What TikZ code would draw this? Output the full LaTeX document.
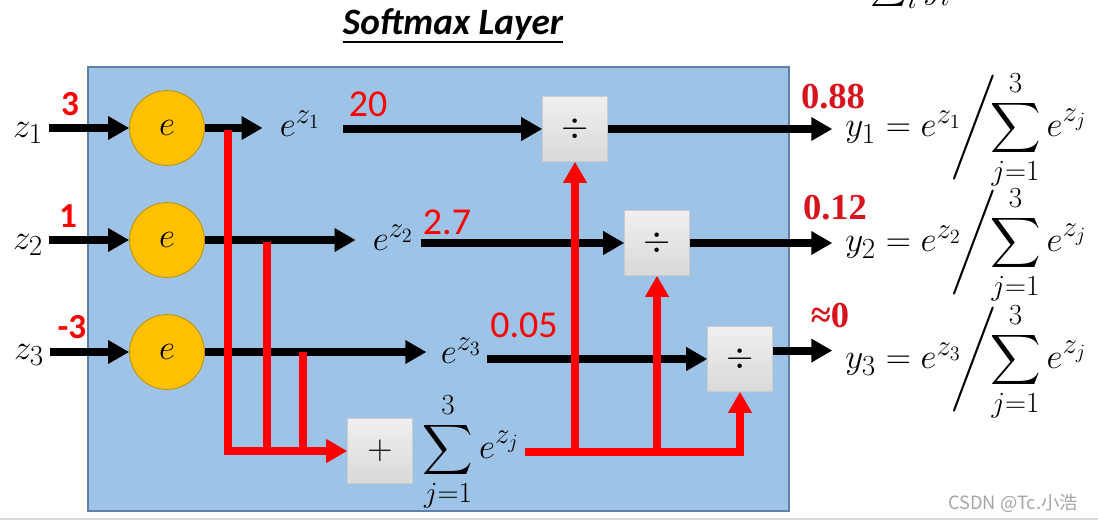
\documentclass[tikz,border=0pt]{standalone}
\usepackage{fontspec}
\usepackage{amsmath}
\setmainfont{Liberation Serif}
\newfontfamily\calibri{Carlito}
\newfontfamily\cjk{Noto Sans CJK SC}
\usetikzlibrary{arrows.meta,positioning}

\definecolor{layerblue}{RGB}{157,195,230}
\definecolor{layeredge}{RGB}{96,128,170}
\definecolor{expyellow}{RGB}{255,192,0}
\definecolor{expedge}{RGB}{190,144,0}
\definecolor{hotred}{RGB}{255,0,0}
\definecolor{numred}{RGB}{215,20,30}

\newcommand{\softout}[1]{$y_{#1} = e^{z_{#1}}\mkern-5mu\Bigg/\mkern-6mu\displaystyle\sum_{j=1}^{3} e^{z_j}$}

\tikzset{
  expnode/.style={circle,fill=expyellow,draw=expedge,line width=0.6pt,
    minimum size=1.87cm,inner sep=0pt,font=\fontsize{33}{36}\selectfont},
  opbox/.style={rectangle,draw=gray!40,top color=gray!12,bottom color=gray!30,
    minimum size=1.62cm,inner sep=0pt,font=\fontsize{30}{36}\selectfont},
  mathtxt/.style={inner sep=0pt,font=\fontsize{30}{36}\selectfont},
  blkarrow/.style={line width=5.6pt,-{Triangle[length=15pt,width=16pt]}},
  redline/.style={hotred,line width=5pt},
  redarrow/.style={hotred,line width=5pt,-{Triangle[length=15pt,width=16pt]}},
  sansval/.style={text=hotred,inner sep=0pt,font=\calibri\fontsize{27}{30}\selectfont},
  boldval/.style={text=hotred,inner sep=0pt,font=\calibri\bfseries\fontsize{25}{28}\selectfont},
  serifval/.style={text=numred,inner sep=0pt,font=\bfseries\fontsize{26}{28}\selectfont},
}

\begin{document}
\begin{tikzpicture}[x=0.025cm,y=-0.025cm]
  \useasboundingbox (0,0) rectangle (1098,522);
  \clip (0,0) rectangle (1098,522);
  \fill[white] (0,0) rectangle (1098,522);

  % title and layer
  \node[inner sep=0pt,font=\calibri\bfseries\itshape\fontsize{26.5}{28}\selectfont] (title) at (453,24) {Softmax Layer};
  \draw[line width=1.4pt] ([yshift=-1.5pt]title.south west) -- ([yshift=-1.5pt]title.south east);
  \node[mathtxt,anchor=base west] (cut) at (870,-2) {$\sum_i y_i = 1$};
  \draw[layeredge,fill=layerblue,line width=0.8pt] (88,67) rectangle (789,511);

  % inputs and exponentials
  \node[mathtxt] (z1) at (28,133) {$z_1$};
  \node[mathtxt] (z2) at (28,245) {$z_2$};
  \node[mathtxt] (z3) at (29,355) {$z_3$};
  \node[expnode] (c1) at (167,128) {$e$};
  \node[expnode] (c2) at (167,240) {$e$};
  \node[expnode] (c3) at (167,352) {$e$};
  \node[boldval] (v1) at (70,104) {3};
  \node[boldval] (v2) at (68,216) {1};
  \node[boldval] (v3) at (72,327) {-3};

  \node[mathtxt] (ez1) at (300,124) {$e^{z_1}$};
  \node[mathtxt] (ez2) at (393,238) {$e^{z_2}$};
  \node[mathtxt] (ez3) at (461,351) {$e^{z_3}$};
  \node[sansval] (n1) at (368,104) {20};
  \node[sansval] (n2) at (447,222) {2.7};
  \node[sansval] (n3) at (524,325) {0.05};

  % divide and sum boxes
  \node[opbox] (d1) at (575,129) {$\div$};
  \node[opbox] (d2) at (657,243) {$\div$};
  \node[opbox] (d3) at (740,359) {$\div$};
  \node[opbox] (p) at (380,451) {$+$};
  \node[mathtxt] (s) at (471,452) {$\displaystyle\sum_{j=1}^{3} e^{z_j}$};

  % outputs
  \node[mathtxt,anchor=west] (y1) at (845,130) {\softout{1}};
  \node[mathtxt,anchor=west] (y2) at (845,245) {\softout{2}};
  \node[mathtxt,anchor=west] (y3) at (845,362) {\softout{3}};
  \node[serifval] (o1) at (833,97) {0.88};
  \node[serifval] (o2) at (835,208) {0.12};
  \node[serifval] (o3) at (830,316) {≈0};

  % black paths
  \draw[blkarrow,shorten <=4pt] (z1.east |- c1.west) -- (c1.west);
  \draw[blkarrow,shorten <=4pt] (z2.east |- c2.west) -- (c2.west);
  \draw[blkarrow,shorten <=4pt] (z3.east |- c3.west) -- (c3.west);
  \draw[blkarrow,shorten >=12pt] (c1.east) -- (c1.east -| ez1.west);
  \draw[blkarrow,shorten >=12pt] (c2.east) -- (c2.east -| ez2.west);
  \draw[blkarrow,shorten >=10pt] (c3.east) -- (c3.east -| ez3.west);
  \draw[blkarrow,shorten <=16pt] (ez1.east |- d1.west) -- (d1.west);
  \draw[blkarrow,shorten <=5pt] (ez2.east |- d2.west) -- (d2.west);
  \draw[blkarrow,shorten <=4pt] (ez3.east |- d3.west) -- (d3.west);
  \draw[blkarrow,shorten >=9pt] (d1.east) -- (d1.east -| y1.west);
  \draw[blkarrow,shorten >=9pt] (d2.east) -- (d2.east -| y2.west);
  \draw[blkarrow,shorten >=9pt] ([yshift=6pt]d3.east) -- ([yshift=6pt]d3.east -| y3.west);

  % red paths
  \coordinate (t1) at (228,130);
  \coordinate (t2) at (267,242);
  \coordinate (t3) at (303,352);
  \draw[redarrow] (t1) |- (p.west);
  \draw[redline] (t2) -- (t2 |- p.west);
  \draw[redline] (t3) -- (t3 |- p.west);
  \draw[redarrow,shorten <=4pt] (s.east) -| (d3.south);
  \draw[redarrow] (d1.south |- s.east) -- (d1.south);
  \draw[redarrow] (d2.south |- s.east) -- (d2.south);

  \draw[gray!30,line width=1.5pt] (0,519) -- (1098,519);
  \node[inner sep=0pt,text=gray!70,font=\cjk\fontsize{13}{15}\selectfont] (mark) at (1013,503) {CSDN @Tc.小浩};
\end{tikzpicture}
\end{document}
